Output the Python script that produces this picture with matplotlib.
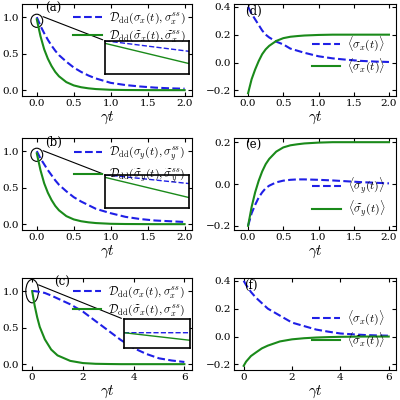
import matplotlib
matplotlib.use("Agg")
import matplotlib.pyplot as plt
from matplotlib.patches import Ellipse

plt.rcParams['mathtext.fontset'] = 'cm'
plt.rcParams['font.family'] = 'DejaVu Serif'
plt.rcParams['font.size'] = 7.5

t2 = [0, 0.05, 0.1, 0.15, 0.2, 0.25, 0.3, 0.4, 0.5, 0.6, 0.7, 0.8, 1.0, 1.2, 1.4, 1.6, 1.8, 2.0]
a_blue = [1.0, 0.88, 0.78, 0.69, 0.61, 0.54, 0.48, 0.39, 0.31, 0.25, 0.2, 0.16, 0.1, 0.07, 0.05, 0.035, 0.025, 0.02]
a_green = [0.97, 0.74, 0.56, 0.43, 0.33, 0.25, 0.19, 0.11, 0.065, 0.04, 0.025, 0.015, 0.005, 0.002, 0.001, 0, 0, 0]
b_blue = [1.0, 0.9, 0.82, 0.74, 0.67, 0.6, 0.54, 0.45, 0.37, 0.31, 0.26, 0.21, 0.15, 0.1, 0.07, 0.05, 0.04, 0.03]
b_green = a_green
d_blue = [0.4, 0.35, 0.31, 0.27, 0.23, 0.2, 0.18, 0.15, 0.13, 0.1, 0.085, 0.07, 0.045, 0.03, 0.02, 0.012, 0.007, 0.004]
d_green = [-0.22, -0.12, -0.05, 0.01, 0.06, 0.095, 0.12, 0.155, 0.175, 0.185, 0.19, 0.194, 0.198, 0.2, 0.2, 0.2, 0.2, 0.2]
e_blue = [-0.2, -0.14, -0.1, -0.065, -0.04, -0.02, -0.008, 0.008, 0.016, 0.02, 0.022, 0.022, 0.02, 0.017, 0.013, 0.009, 0.006, 0.003]
e_green = [-0.2, -0.11, -0.04, 0.015, 0.06, 0.095, 0.12, 0.155, 0.175, 0.185, 0.19, 0.194, 0.198, 0.2, 0.2, 0.2, 0.2, 0.2]
t6 = [0, 0.1, 0.2, 0.3, 0.5, 0.75, 1.0, 1.5, 2.0, 2.5, 3.0, 3.5, 4.0, 4.5, 5.0, 5.5, 6.0]
c_blue = [1.0, 1.0, 0.995, 0.99, 0.975, 0.94, 0.9, 0.82, 0.72, 0.59, 0.46, 0.33, 0.22, 0.14, 0.08, 0.05, 0.03]
c_green = [1.0, 0.8, 0.64, 0.51, 0.34, 0.2, 0.12, 0.045, 0.015, 0.005, 0.002, 0, 0, 0, 0, 0, 0]
f_blue = [0.4, 0.37, 0.345, 0.32, 0.28, 0.24, 0.2, 0.15, 0.1, 0.075, 0.05, 0.035, 0.022, 0.016, 0.011, 0.008, 0.006]
f_green = [-0.21, -0.18, -0.16, -0.14, -0.115, -0.085, -0.065, -0.035, -0.02, -0.012, -0.007, -0.004, -0.002, -0.001, 0, 0, 0]

B, G = '#1f1fe6', '#1a8a1a'
fig = plt.figure(figsize=(4, 4), dpi=100)

def mk(rect, xlim, xt, ylim, yt):
    ax = fig.add_axes(rect)
    ax.set_xlim(*xlim); ax.set_xticks(xt)
    ax.set_ylim(*ylim); ax.set_yticks(yt)
    ax.tick_params(direction='in', top=True, right=True, length=3, labelsize=7.5, pad=2)
    ax.set_xlabel(r'$\gamma t$', fontsize=11, labelpad=1)
    return ax

lefts = [0.055, 0.585]; w = [0.425, 0.405]
bots = [0.76, 0.425, 0.075]; h = 0.23
leg_l = [(r'$\mathcal{D}_{\rm dd}(\sigma_x(t),\sigma_x^{ss})$', r'$\mathcal{D}_{\rm dd}(\widetilde{\sigma}_x(t),\widetilde{\sigma}_x^{ss})$'),
         (r'$\mathcal{D}_{\rm dd}(\sigma_y(t),\sigma_y^{ss})$', r'$\mathcal{D}_{\rm dd}(\widetilde{\sigma}_y(t),\widetilde{\sigma}_y^{ss})$'),
         (r'$\mathcal{D}_{\rm dd}(\sigma_x(t),\sigma_x^{ss})$', r'$\mathcal{D}_{\rm dd}(\widetilde{\sigma}_x(t),\sigma_x^{ss})$')]
leg_r = [(r'$\langle\sigma_x(t)\rangle$', r'$\langle\widetilde{\sigma}_x(t)\rangle$'),
         (r'$\langle\sigma_y(t)\rangle$', r'$\langle\widetilde{\sigma}_y(t)\rangle$'),
         (r'$\langle\sigma_x(t)\rangle$', r'$\langle\widetilde{\sigma}_x(t)\rangle$')]
left_data = [(t2, a_blue, a_green), (t2, b_blue, b_green), (t6, c_blue, c_green)]
right_data = [(t2, d_blue, d_green), (t2, e_blue, e_green), (t6, f_blue, f_green)]
labs_l = ['(a)', '(b)', '(c)']; labs_r = ['(d)', '(e)', '(f)']

for i in range(3):
    big = i == 2
    xl = (-0.4, 6.3) if big else (-0.2, 2.1)
    xt = [0, 2, 4, 6] if big else [0, 0.5, 1.0, 1.5, 2.0]
    ax = mk([lefts[0], bots[i], w[0], h], xl, xt, (-0.08, 1.18), [0, 0.5, 1.0])
    t, bl, gr = left_data[i]
    ax.plot(t, bl, '--', color=B, lw=1.5, label=leg_l[i][0])
    ax.plot(t, gr, '-', color=G, lw=1.5, label=leg_l[i][1])
    ax.legend(loc='upper right', frameon=False, fontsize=8.5, handlelength=2.4,
              borderaxespad=0.15, labelspacing=0.25, handletextpad=0.6)
    ax.text(0.135 if not big else 0.19, 0.91, labs_l[i], transform=ax.transAxes, fontsize=8.5)
    if big:
        e = Ellipse((0, 1.0), 0.5, 0.32, fill=False, color='k', lw=0.8)
    else:
        e = Ellipse((0, 0.95), 0.16, 0.18, fill=False, color='k', lw=0.8)
    ax.add_patch(e)
    ins_rect = [0.49, 0.24, 0.49, 0.36] if not big else [0.6, 0.24, 0.39, 0.31]
    ins = ax.inset_axes(ins_rect)
    ins.plot(t, bl, '--', color=B, lw=1.0)
    ins.plot(t, gr, '-', color=G, lw=1.0)
    if big:
        ins.set_xlim(0, 0.1); ins.set_ylim(0.6, 1.35)
    else:
        ins.set_xlim(0, 0.05); ins.set_ylim(0.62, 1.0)
    ins.set_xticks([]); ins.set_yticks([])
    for s in ins.spines.values():
        s.set_linewidth(1.2)
    p0 = (0.05, 1.02) if not big else (0.15, 1.1)
    ax.annotate('', xy=(ins_rect[0], ins_rect[1] + ins_rect[3]), xycoords='axes fraction',
                xytext=p0, textcoords='data',
                arrowprops=dict(arrowstyle='-', color='k', lw=0.8))

    ax2 = mk([lefts[1], bots[i], w[1], h], xl, xt, (-0.24, 0.42) if i != 1 else (-0.22, 0.22),
             [-0.2, 0.0, 0.2, 0.4] if i != 1 else [-0.2, 0.0, 0.2])
    t, bl, gr = right_data[i]
    ax2.plot(t, bl, '--', color=B, lw=1.5, label=leg_r[i][0])
    ax2.plot(t, gr, '-', color=G, lw=1.5, label=leg_r[i][1])
    ax2.legend(loc='center right' if i != 1 else 'lower right', frameon=False, fontsize=8.5,
               handlelength=2.4, bbox_to_anchor=(1, 0.45) if i != 1 else None,
               labelspacing=0.25, handletextpad=0.6)
    ax2.text(0.07 if not big else 0.06, 0.88, labs_r[i], transform=ax2.transAxes, fontsize=8.5)

fig.savefig('out.png', dpi=100)
